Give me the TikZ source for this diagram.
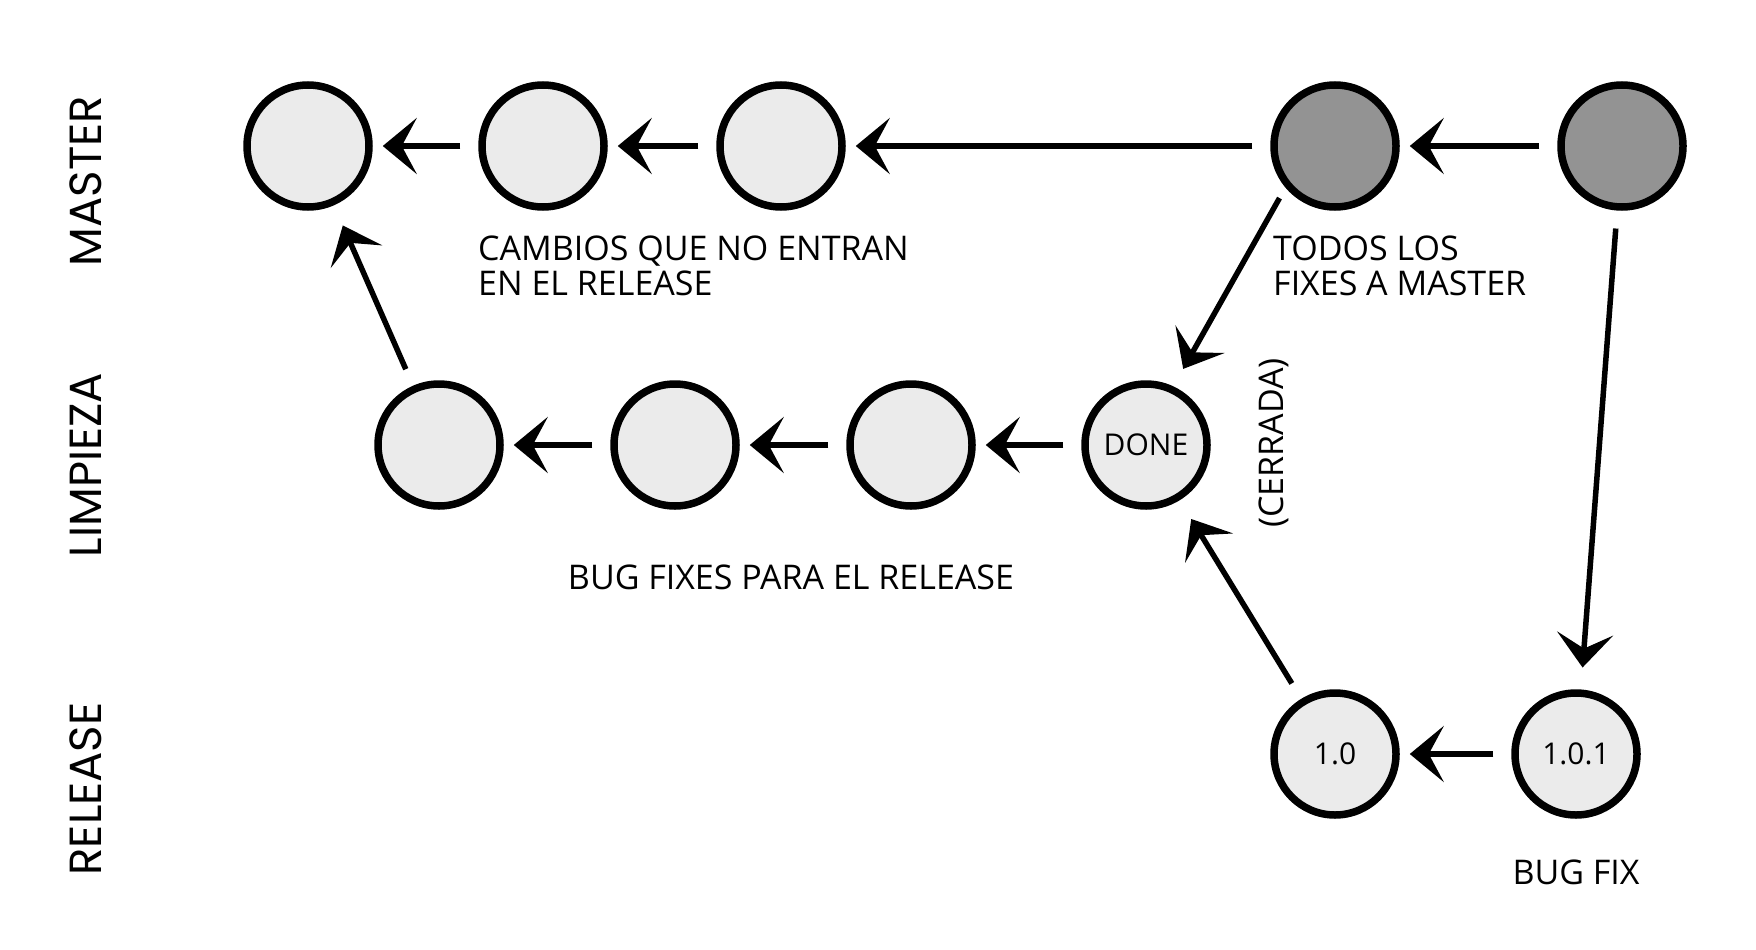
\documentclass[tikz,border=0pt]{standalone}
\usepackage{fontspec}
\setmainfont{Open Sans}
\newfontfamily\axisfont{Poppins}
\usetikzlibrary{arrows.meta}
\definecolor{lightfill}{HTML}{EBEBEB}
\definecolor{darkfill}{HTML}{939393}
\begin{document}
\begin{tikzpicture}[x=1pt,y=-1pt,
  commit/.style={circle, draw=black, line width=7.5pt, minimum size=122pt, inner sep=0pt,
    fill=lightfill, font=\fontsize{30}{32}\selectfont},
  darkcommit/.style={commit, fill=darkfill},
  link/.style={line width=5.5pt, -{Stealth[length=34pt,width=56pt,inset=15pt]},
    shorten <=18pt, shorten >=10pt},
  longgap/.style={shorten <=18pt, shorten >=22pt},
  lane/.style={rotate=90, inner sep=0pt, font=\axisfont\fontsize{45}{45}\selectfont},
  note/.style={inner sep=0pt, align=left, font=\fontsize{34}{35}\selectfont}
]
\useasboundingbox[fill=white] (0,0) rectangle (1756,950);

% lane labels
\node[lane] (lmaster) at (86,181) {MASTER};
\node[lane] (llimp) at (86,465) {LIMPIEZA};
\node[lane] (lrel) at (86,789) {RELEASE};

% master
\node[commit] (m1) at (308,146) {};
\node[commit] (m2) at (543,146) {};
\node[commit] (m3) at (781,146) {};
\node[darkcommit] (m4) at (1335,146) {};
\node[darkcommit] (m5) at (1622,146) {};

% limpieza
\node[commit] (l1) at (439,445) {};
\node[commit] (l2) at (675,445) {};
\node[commit] (l3) at (911,445) {};
\node[commit] (done) at (1146,445) {DONE};

% release
\node[commit] (r1) at (1335,754) {1.0};
\node[commit] (r2) at (1576,754) {1.0.1};

% arrows
\draw[link] (m2) -- (m1);
\draw[link] (m3) -- (m2);
\draw[link] (m4) -- (m3);
\draw[link] (m5) -- (m4);
\draw[link] (l2) -- (l1);
\draw[link] (l3) -- (l2);
\draw[link] (done) -- (l3);
\draw[link] (r2) -- (r1);
\draw[link,longgap] (l1) -- (m1);
\draw[link,shorten <=12pt,shorten >=20pt] (m4.220) -- (done.65);
\draw[link,longgap] (m5) -- (r2);
\draw[link,longgap] (r1) -- (done);

% notes
\node[note, anchor=west] (n1) at (478,266) {CAMBIOS QUE NO ENTRAN\\EN EL RELEASE};
\node[note, anchor=west] (n2) at (1273,266) {TODOS LOS\\FIXES A MASTER};
\node[note] (n3) at (791,577) {BUG FIXES PARA EL RELEASE};
\node[note, rotate=90] (n4) at (1274,443) {(CERRADA)};
\node[note] (n5) at (1576,872) {BUG FIX};
\end{tikzpicture}
\end{document}
